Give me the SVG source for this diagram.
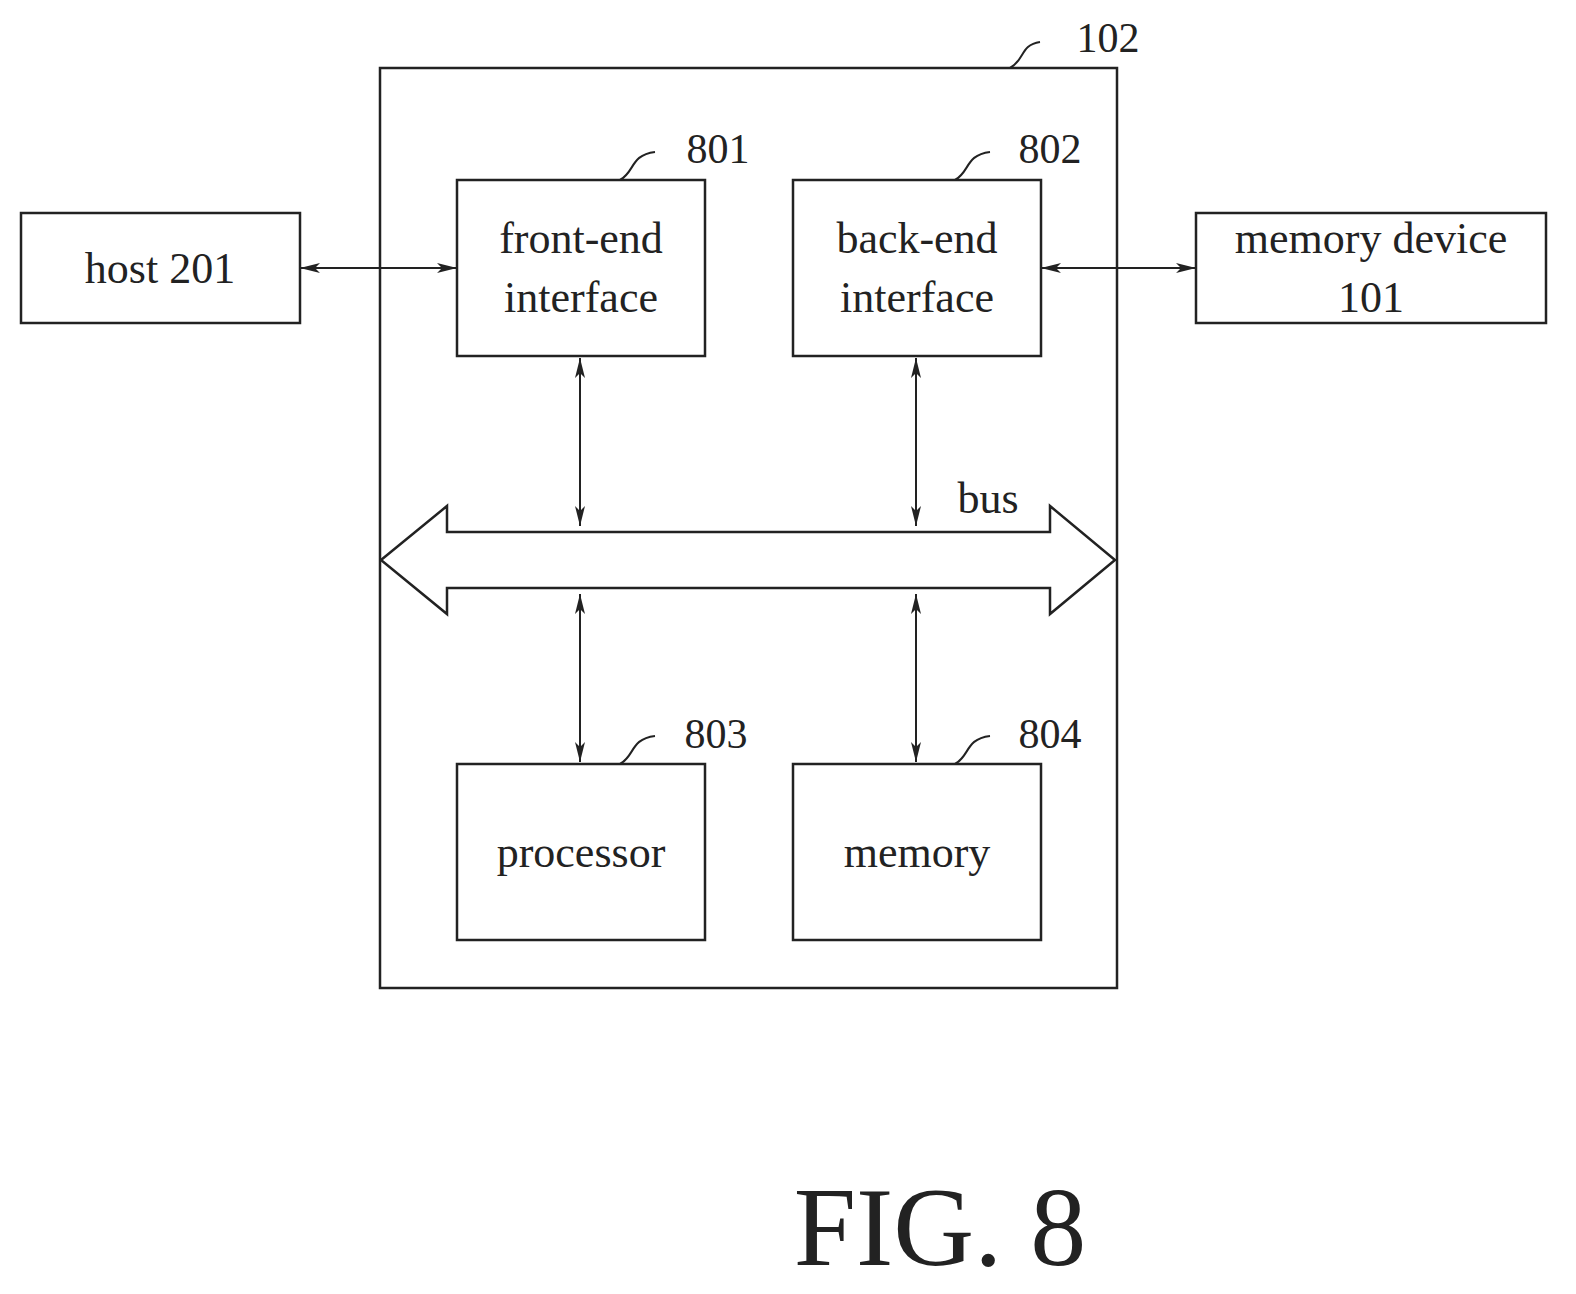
<svg xmlns="http://www.w3.org/2000/svg" width="1576" height="1294" viewBox="0 0 1576 1294">
<style>
.b{fill:#fff;stroke:#222;stroke-width:2.5}
.t{font-family:"Liberation Serif",serif;font-size:44px;fill:#222;text-anchor:middle}
.n{font-family:"Liberation Serif",serif;font-size:42px;fill:#222;text-anchor:middle}
.c{fill:none;stroke:#222;stroke-width:2}
.l{fill:none;stroke:#222;stroke-width:2}
</style>
<defs>
<marker id="a" viewBox="0 0 20 10" refX="20" refY="5" markerWidth="20" markerHeight="10" markerUnits="userSpaceOnUse" orient="auto-start-reverse"><path d="M0,0 L20,5 L0,10 L5,5 Z" fill="#222"/></marker>
</defs>
<rect width="1576" height="1294" fill="#fff"/>
<g id="n102"><rect class="b" x="380" y="68" width="737" height="920"/><path class="l" d="M1010,68 C1025,60 1020,45 1040,42"/><text class="n" x="1108" y="52">102</text></g>
<g id="host"><rect class="b" x="21" y="213" width="279" height="110"/><text class="t" x="160" y="283">host 201</text></g>
<g id="n801"><rect class="b" x="457" y="180" width="248" height="176"/><text class="t" x="581" y="253">front-end</text><text class="t" x="581" y="312">interface</text><path class="l" d="M620,180 C635,172 630,155 655,152"/><text class="n" x="718" y="163">801</text></g>
<g id="n802"><rect class="b" x="793" y="180" width="248" height="176"/><text class="t" x="917" y="253">back-end</text><text class="t" x="917" y="312">interface</text><path class="l" d="M955,180 C970,172 965,155 990,152"/><text class="n" x="1050" y="163">802</text></g>
<g id="memdev"><rect class="b" x="1196" y="213" width="350" height="110"/><text class="t" x="1371" y="253">memory device</text><text class="t" x="1371" y="312">101</text></g>
<g id="n803"><rect class="b" x="457" y="764" width="248" height="176"/><text class="t" x="581" y="867">processor</text><path class="l" d="M620,764 C635,756 630,739 655,736"/><text class="n" x="716" y="748">803</text></g>
<g id="n804"><rect class="b" x="793" y="764" width="248" height="176"/><text class="t" x="917" y="867">memory</text><path class="l" d="M955,764 C970,756 965,739 990,736"/><text class="n" x="1050" y="748">804</text></g>
<g id="bus"><path class="b" d="M381,560 L447,506 L447,532 L1050,532 L1050,506 L1115,560 L1050,614 L1050,588 L447,588 L447,614 Z"/><text class="t" x="988" y="513">bus</text></g>
<g id="connectors">
<line class="c" x1="300" y1="268" x2="457" y2="268" marker-start="url(#a)" marker-end="url(#a)"/>
<line class="c" x1="1041" y1="268" x2="1196" y2="268" marker-start="url(#a)" marker-end="url(#a)"/>
<line class="c" x1="580" y1="358" x2="580" y2="526" marker-start="url(#a)" marker-end="url(#a)"/>
<line class="c" x1="916" y1="358" x2="916" y2="526" marker-start="url(#a)" marker-end="url(#a)"/>
<line class="c" x1="580" y1="594" x2="580" y2="762" marker-start="url(#a)" marker-end="url(#a)"/>
<line class="c" x1="916" y1="594" x2="916" y2="762" marker-start="url(#a)" marker-end="url(#a)"/>
</g>
<text x="940" y="1265" style="font-family:'Liberation Serif',serif;font-size:112px;fill:#222;text-anchor:middle">FIG. 8</text>
</svg>
